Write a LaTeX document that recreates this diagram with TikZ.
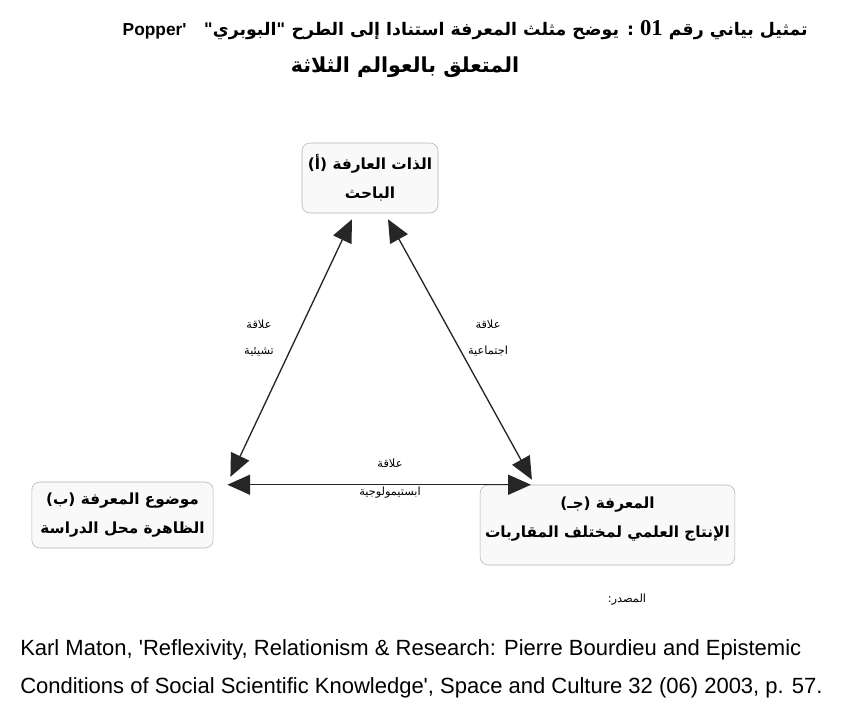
\documentclass[tikz,border=0pt]{standalone}
\usepackage{fontspec}
\usetikzlibrary{arrows.meta,calc}
\setmainfont{Liberation Sans}
\newfontfamily\arabicfont[Script=Arabic]{DejaVu Sans}
\newfontfamily\numfont{Liberation Serif}
\TeXXeTstate=1

\tikzset{
  box/.style={draw=gray!60, fill=gray!5, rounded corners=6pt, align=center, inner sep=0pt,
    font=\arabicfont\bfseries\fontsize{11.5}{22}\selectfont},
  rel/.style={black!85, line width=1pt, {Triangle[length=17pt,width=15pt]}-{Triangle[length=17pt,width=15pt]}},
  lbl/.style={font=\arabicfont\fontsize{8.5}{19}\selectfont, align=center, inner sep=0pt}
}

\begin{document}
\begin{tikzpicture}[x={(0.75pt,0)},y={(0,-0.75pt)}]
    \useasboundingbox (0,0) rectangle (841,708);
    % title
    \node[anchor=east, inner sep=0pt, font=\arabicfont\bfseries\fontsize{13}{18}\selectfont] (title) at (808,30)
      {\beginR تمثيل بياني رقم \beginL{\numfont\fontsize{17}{18}\selectfont 01}\endL{} : يوضح مثلث المعرفة استنادا إلى الطرح "البوبري"\quad\beginL{\rmfamily Popper\textquotesingle}\endL\endR};
    \node[inner sep=0pt, font=\arabicfont\bfseries\fontsize{15.5}{18}\selectfont] (title2) at (405,67)
      {\beginR المتعلق بالعوالم الثلاثة\endR};

    % the three corners of the triangle
    \node[box, minimum width=102pt, minimum height=52.5pt] (subj) at (370,178)
      {\beginR الذات العارفة (أ)\endR\\\beginR الباحث\endR};
    \node[box, minimum width=136pt, minimum height=49.5pt] (obj) at (122.5,515)
      {\beginR موضوع المعرفة (ب)\endR\\\beginR الظاهرة محل الدراسة\endR};
    \node[box, minimum width=191pt, minimum height=60pt] (know) at (607.5,525)
      {\raisebox{6pt}[\height][\depth]{\begin{tabular}{@{}c@{}}\beginR المعرفة (جـ)\endR\\\beginR الإنتاج العلمي لمختلف المقاربات\endR\end{tabular}}};

    \draw[rel] ($(subj.south)+(-18,6)$) -- ($(obj.north east)+(17,-5)$);
    \draw[rel] ($(subj.south)+(18,6)$) -- ($(know.north west)+(52,-5)$);
    \draw[rel] ($(obj.north east)+(14,3)$) -- ($(know.north west)+(51,0)$);

    \node[lbl] (r1) at (259,338) {\beginR علاقة\endR\\\beginR تشيئية\endR};
    \node[lbl] (r2) at (488,338) {\beginR علاقة\endR\\\beginR اجتماعية\endR};
    \node[lbl] (r3) at (390,479) {\beginR علاقة\endR\\[2pt]\beginR ابستيمولوجية\endR};

    % source
    \node[lbl] (src) at (627,600) {\beginR المصدر:\endR};
    \node[anchor=west, inner sep=0pt, font=\fontsize{16.5}{18}\selectfont] (ref1) at (20,650)
      {Karl Maton, \textquotesingle Reflexivity, Relationism \& Research: Pierre Bourdieu and Epistemic};
    \node[anchor=west, inner sep=0pt, font=\fontsize{16.5}{18}\selectfont] (ref2) at (20,688)
      {Conditions of Social Scientific Knowledge\textquotesingle, Space and Culture 32 (06) 2003, p. 57.};
\end{tikzpicture}
\end{document}
